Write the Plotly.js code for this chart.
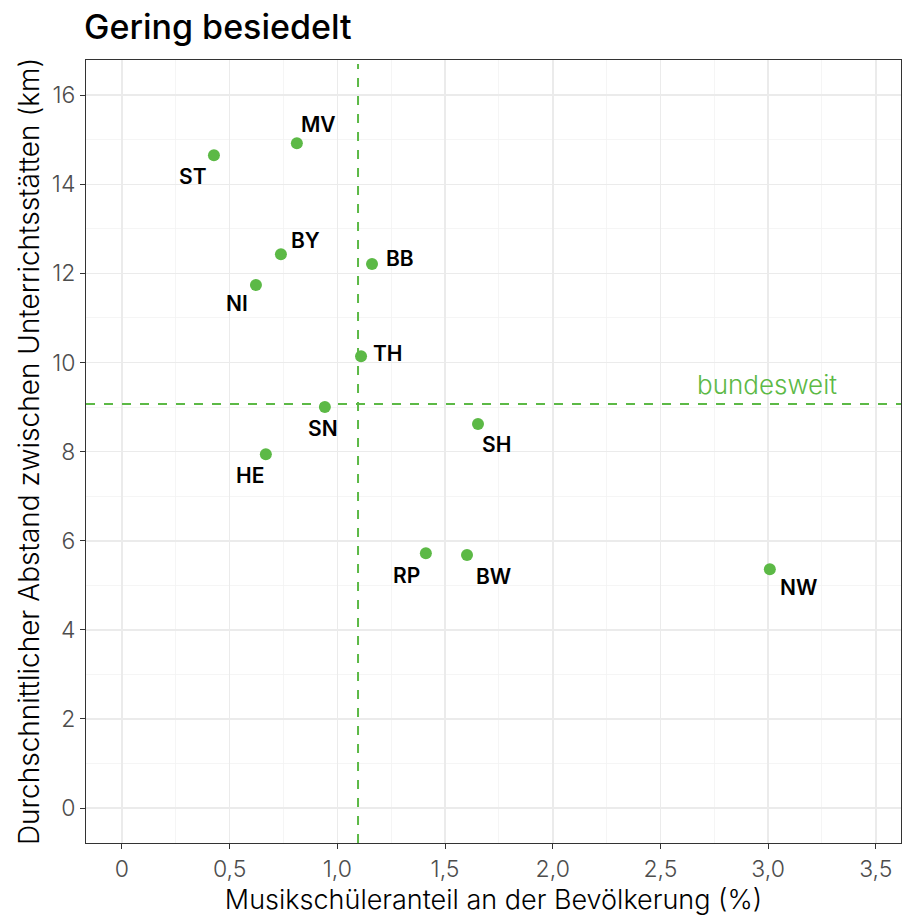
<!DOCTYPE html>
<html><head><meta charset="utf-8">
<script src="https://cdn.plot.ly/plotly-3.0.1.min.js"></script>
<style>html,body{margin:0;padding:0;background:#fff}</style>
</head><body>
<div id="chart" style="width:902px;height:916px"></div>
<script>
const states = ["ST","MV","BY","BB","NI","TH","SN","SH","HE","RP","BW","NW"];
const share  = [0.427,0.812,0.738,1.161,0.622,1.110,0.942,1.653,0.668,1.411,1.602,3.008];
const dist   = [14.65,14.92,12.43,12.21,11.74,10.14,9.00,8.62,7.94,5.72,5.68,5.36];
const labelDx = [-21,22,25,28,-19,27,-2,19,-16,-19,26,29];
const labelDy = [21,-19,-14,-6,19,-3,21,21,21,22,22,18];
const nationalShare = 1.096;
const nationalDist = 9.07;
const refLabel = "bundesweit";
const xTickVals = [0,0.5,1,1.5,2,2.5,3,3.5];
const xTickText = ["0","0,5","1,0","1,5","2,0","2,5","3,0","3,5"];
const yTickVals = [0,2,4,6,8,10,12,14,16];

const green = "#5cb946";
const font = "Inter, 'Open Sans', sans-serif";

const trace = {
  type: "scatter", mode: "markers", x: share, y: dist, text: states,
  marker: {color: green, size: 12}, hoverinfo: "text", showlegend: false
};

const annotations = states.map((s,i) => ({
  x: share[i], y: dist[i], xref: "x", yref: "y", text: s, showarrow: false,
  xshift: labelDx[i], yshift: -labelDy[i],
  font: {family: font, size: 21, color: "#000", weight: 600}
}));
annotations.push({
  x: 2.995, y: nationalDist, xref: "x", yref: "y", text: refLabel, showarrow: false,
  yshift: 19, font: {family: font, size: 26, color: green, weight: 300}
});

const layout = {
  width: 902, height: 916,
  margin: {l: 86, r: 1, t: 60, b: 73},
  paper_bgcolor: "#fff", plot_bgcolor: "#fff",
  font: {family: font, color: "#000"},
  title: {text: "Gering besiedelt", x: 84/902, xanchor: "left", y: 1 - 27/916, yanchor: "middle",
          font: {family: font, size: 34, color: "#000", weight: 500}},
  xaxis: {
    range: [-0.167, 3.617], tickvals: xTickVals, ticktext: xTickText,
    showgrid: true, gridcolor: "#ebebeb", gridwidth: 1.6,
    minor: {dtick: 0.25, showgrid: true, gridcolor: "#f2f2f2", gridwidth: 0.8},
    zeroline: false, showline: true, linecolor: "#333", linewidth: 1, mirror: true,
    ticks: "outside", ticklen: 5, tickcolor: "#333",
    tickfont: {family: font, size: 23, color: "#4d4d4d", weight: 300},
    title: {text: "Musikschüleranteil an der Bevölkerung (%)", standoff: 5,
            font: {family: font, size: 27, color: "#000", weight: 300}}
  },
  yaxis: {
    range: [-0.785, 16.79], tickvals: yTickVals,
    showgrid: true, gridcolor: "#ebebeb", gridwidth: 1.6,
    minor: {dtick: 1, showgrid: true, gridcolor: "#f2f2f2", gridwidth: 0.8},
    zeroline: false, showline: true, linecolor: "#333", linewidth: 1, mirror: true,
    ticks: "outside", ticklen: 5, tickcolor: "#333",
    tickfont: {family: font, size: 23, color: "#4d4d4d", weight: 300},
    title: {text: "Durchschnittlicher Abstand zwischen Unterrichtsstätten (km)", standoff: 4,
            font: {family: font, size: 28, color: "#000", weight: 300}}
  },
  shapes: [
    {type: "line", xref: "x", yref: "paper", x0: nationalShare, x1: nationalShare, y0: 0, y1: 0.995,
     line: {color: green, width: 2, dash: "dash"}},
    {type: "line", xref: "paper", yref: "y", x0: 0, x1: 1, y0: nationalDist, y1: nationalDist,
     line: {color: green, width: 2, dash: "dash"}}
  ],
  annotations: annotations
};

Plotly.newPlot("chart", [trace], layout, {displayModeBar: false, staticPlot: true});
</script>
</body></html>
